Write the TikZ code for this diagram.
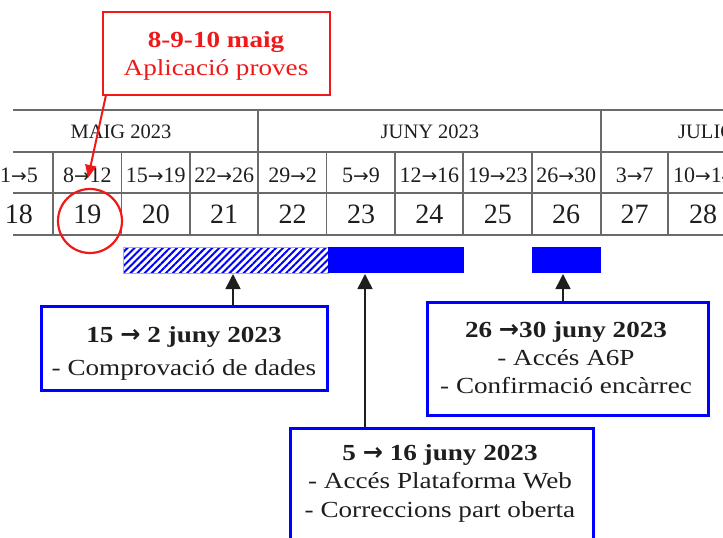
\documentclass[tikz,border=0pt]{standalone}
\usepackage{fontspec}
\setmainfont{Liberation Serif}
\newfontfamily\widefont[FakeStretch=1.18]{Liberation Serif}
\newfontfamily\arfont[Scale=0.85]{DejaVu Sans}
\newfontfamily\arfontb[Scale=1.05]{DejaVu Sans}
\newcommand\rar{{\arfont →}}
\newcommand\rarb{{\arfontb →}}
\usetikzlibrary{arrows.meta,patterns.meta}
\definecolor{tgray}{HTML}{6A6A6A}
\definecolor{ink}{HTML}{1E1E1E}
\definecolor{rred}{HTML}{F01818}
\definecolor{bblue}{HTML}{0000FF}
\begin{document}
\begin{tikzpicture}[x=1pt,y=-1pt,
  tline/.style={draw=tgray,line width=1.6pt},
  mon/.style={anchor=base,font=\fontsize{20.5}{24}\selectfont,text=ink,inner sep=0pt},
  wk/.style={anchor=base,font=\fontsize{22}{24}\selectfont,text=ink,inner sep=0pt},
  num/.style={anchor=base,font=\fontsize{28}{32}\selectfont,text=ink,inner sep=0pt},
  bluebox/.style={draw=bblue,line width=3pt,fill=white,inner sep=0pt,outer sep=0pt},
  redbox/.style={draw=rred,line width=2.6pt,fill=white,inner sep=0pt,outer sep=0pt},
  btxt/.style={anchor=base,font=\widefont\fontsize{23}{28}\selectfont,text=ink,inner sep=0pt},
  bttl/.style={anchor=base,font=\widefont\bfseries\fontsize{23}{28}\selectfont,text=ink,inner sep=0pt},
  solidbar/.style={fill=bblue,draw=none,inner sep=0pt,outer sep=0pt},
  hatchbar/.style={pattern={Lines[angle=45,distance=5pt,line width=2pt]},pattern color=bblue,draw=bblue!35,line width=0.6pt,inner sep=0pt,outer sep=0pt},
  arr/.style={draw=ink,line width=1.5pt,-{Triangle[length=15pt,width=15pt]}},
  redarr/.style={draw=rred,line width=2pt,-{Triangle[length=13pt,width=11pt]}}
]
\useasboundingbox (0,0) rectangle (723,538);
\clip (0,0) rectangle (723,538);
% table grid
\draw[tline] (13,110) -- (723,110);
\draw[tline] (13,152) -- (723,152);
\draw[tline] (13,193) -- (723,193);
\draw[tline] (13,235) -- (723,235);
\draw[tline] (258,110) -- (258,235);
\draw[tline] (601,110) -- (601,235);
\foreach \xx in {53,121.5,190,326.5,395,463,532,668}
  \draw[tline] (\xx,152) -- (\xx,235);
% month row
\node[mon] (mmaig) at (121,138) {MAIG 2023};
\node[mon] (mjuny) at (430,138) {JUNY 2023};
\node[mon,anchor=base west] (mjul) at (678,138) {JULIOL 2023};
% week rows
\foreach \lab [count=\i from 0] in {1\rar5,8\rar12,15\rar19,22\rar26,29\rar2,5\rar9,12\rar16,19\rar23,26\rar30,3\rar7,10\rar14}{
  \node[wk] (w\i) at (19+68.4*\i,182) {\lab};
}
\foreach \nn [count=\i from 0] in {18,...,28}{
  \node[num] (n\i) at (19+68.4*\i,223) {\nn};
}
% bars
\node[hatchbar,minimum width=205pt,minimum height=26pt] (hb) at (225.5,260) {};
\node[solidbar,minimum width=136pt,minimum height=26pt] (sb1) at (396,260) {};
\node[solidbar,minimum width=69pt,minimum height=26pt] (sb2) at (566.5,260) {};
% boxes
\node[bluebox,minimum width=286pt,minimum height=84pt] (b1) at (184,348) {};
\node[bttl] (b1a) at (184,342) {15 \rarb{} 2 juny 2023};
\node[btxt] (b1b) at (184,375) {- Comprovació de dades};

\node[bluebox,minimum width=281pt,minimum height=113pt] (b3) at (567.5,358.5) {};
\node[bttl] (b3a) at (566,337) {26 \rarb30 juny 2023};
\node[btxt] (b3b) at (566,365) {- Accés A6P};
\node[btxt] (b3c) at (566,393) {- Confirmació encàrrec};

\node[bluebox,minimum width=303pt,minimum height=140pt] (b2) at (441.5,498) {};
\node[bttl] (b2a) at (440,460) {5 \rarb{} 16 juny 2023};
\node[btxt] (b2b) at (440,488) {- Accés Plataforma Web};
\node[btxt] (b2c) at (440,517) {- Correccions part oberta};
% arrows to bars
\coordinate (t1) at (233,274);
\coordinate (t2) at (365,274);
\coordinate (t3) at (563,274);
\draw[arr] (b1.north -| t1) -- (t1);
\draw[arr] (b2.north -| t2) -- (t2);
\draw[arr] (b3.north -| t3) -- (t3);
% red callout
\node[redbox,minimum width=227pt,minimum height=83pt] (rb) at (216.5,53.5) {};
\node[bttl,text=rred] (rba) at (216,47) {8-9-10 maig};
\node[btxt,text=rred] (rbb) at (216,75) {Aplicació proves};
\node[draw=rred,line width=2.2pt,circle,minimum size=64pt,inner sep=0pt] (circ) at (90,221) {};
\coordinate (rs) at (106,95);
\coordinate (rt) at (88,178);
\draw[redarr] (rs) -- (rt);
\end{tikzpicture}
\end{document}
